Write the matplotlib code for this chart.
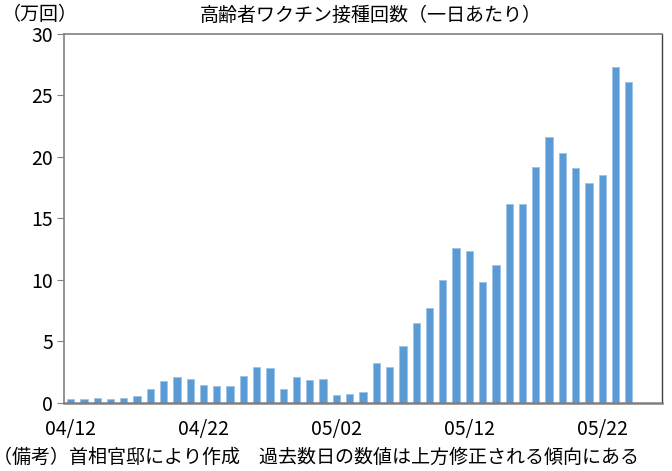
import numpy as np
import pandas as pd
import matplotlib.pyplot as plt

plt.rcParams['font.family'] = ['Noto Sans CJK JP', 'DejaVu Sans']

# 一日あたりの接種回数（万回）、04/12〜05/24
dates = pd.date_range('2021-04-12', '2021-05-24', freq='D')
values = [0.27, 0.27, 0.36, 0.30, 0.36, 0.58, 1.10, 1.76, 2.06, 1.90,
          1.40, 1.32, 1.35, 2.15, 2.89, 2.83, 1.13, 2.06, 1.82, 1.95,
          0.60, 0.68, 0.83, 3.20, 2.87, 4.62, 6.50, 7.70, 9.95, 12.60,
          12.35, 9.80, 11.20, 16.14, 16.20, 19.20, 21.60, 20.30, 19.10, 17.90,
          18.55, 27.35, 26.10]
tick_labels = ['04/12', '04/22', '05/02', '05/12', '05/22']

fig = plt.figure(figsize=(6.72, 4.71), dpi=100)
ax = fig.add_axes([64/672, 1-402.7/471, 598/672, (402.7-34)/471])

x = np.arange(len(dates))
ax.bar(x, values, width=0.55, color='#5B9BD5', edgecolor='#9DC3E6', linewidth=0.6)

ax.set_xlim(-0.5, 44.5)
ax.set_ylim(0, 30)
ax.set_yticks([0, 5, 10, 15, 20, 25, 30])
lbl_pos = [i for i, d in enumerate(dates) if d.strftime('%m/%d') in tick_labels]
ax.set_xticks(lbl_pos)
ax.set_xticklabels(tick_labels)
ax.tick_params(axis='x', length=0, labelsize=14, pad=12)
ax.tick_params(axis='y', length=5, color='#808080', labelsize=14, pad=3)

for s in ['left', 'top']:
    ax.spines[s].set_color('#808080')
    ax.spines[s].set_linewidth(1.2)
ax.spines['bottom'].set_color('#808080')
ax.spines['bottom'].set_linewidth(1.8)
ax.spines['right'].set_color('#404040')
ax.spines['right'].set_linewidth(1.0)

fig.text(371/672, 1-15/471, '高齢者ワクチン接種回数（一日あたり）', ha='center', va='center', fontsize=13.7)
fig.text(2/672, 1-15/471, '（万回）', ha='left', va='center', fontsize=13.7)
fig.text(-7/672, 1-457/471, '（備考）首相官邸により作成　過去数日の数値は上方修正される傾向にある',
         ha='left', va='center', fontsize=13.7)

fig.savefig('out.png', dpi=100)
